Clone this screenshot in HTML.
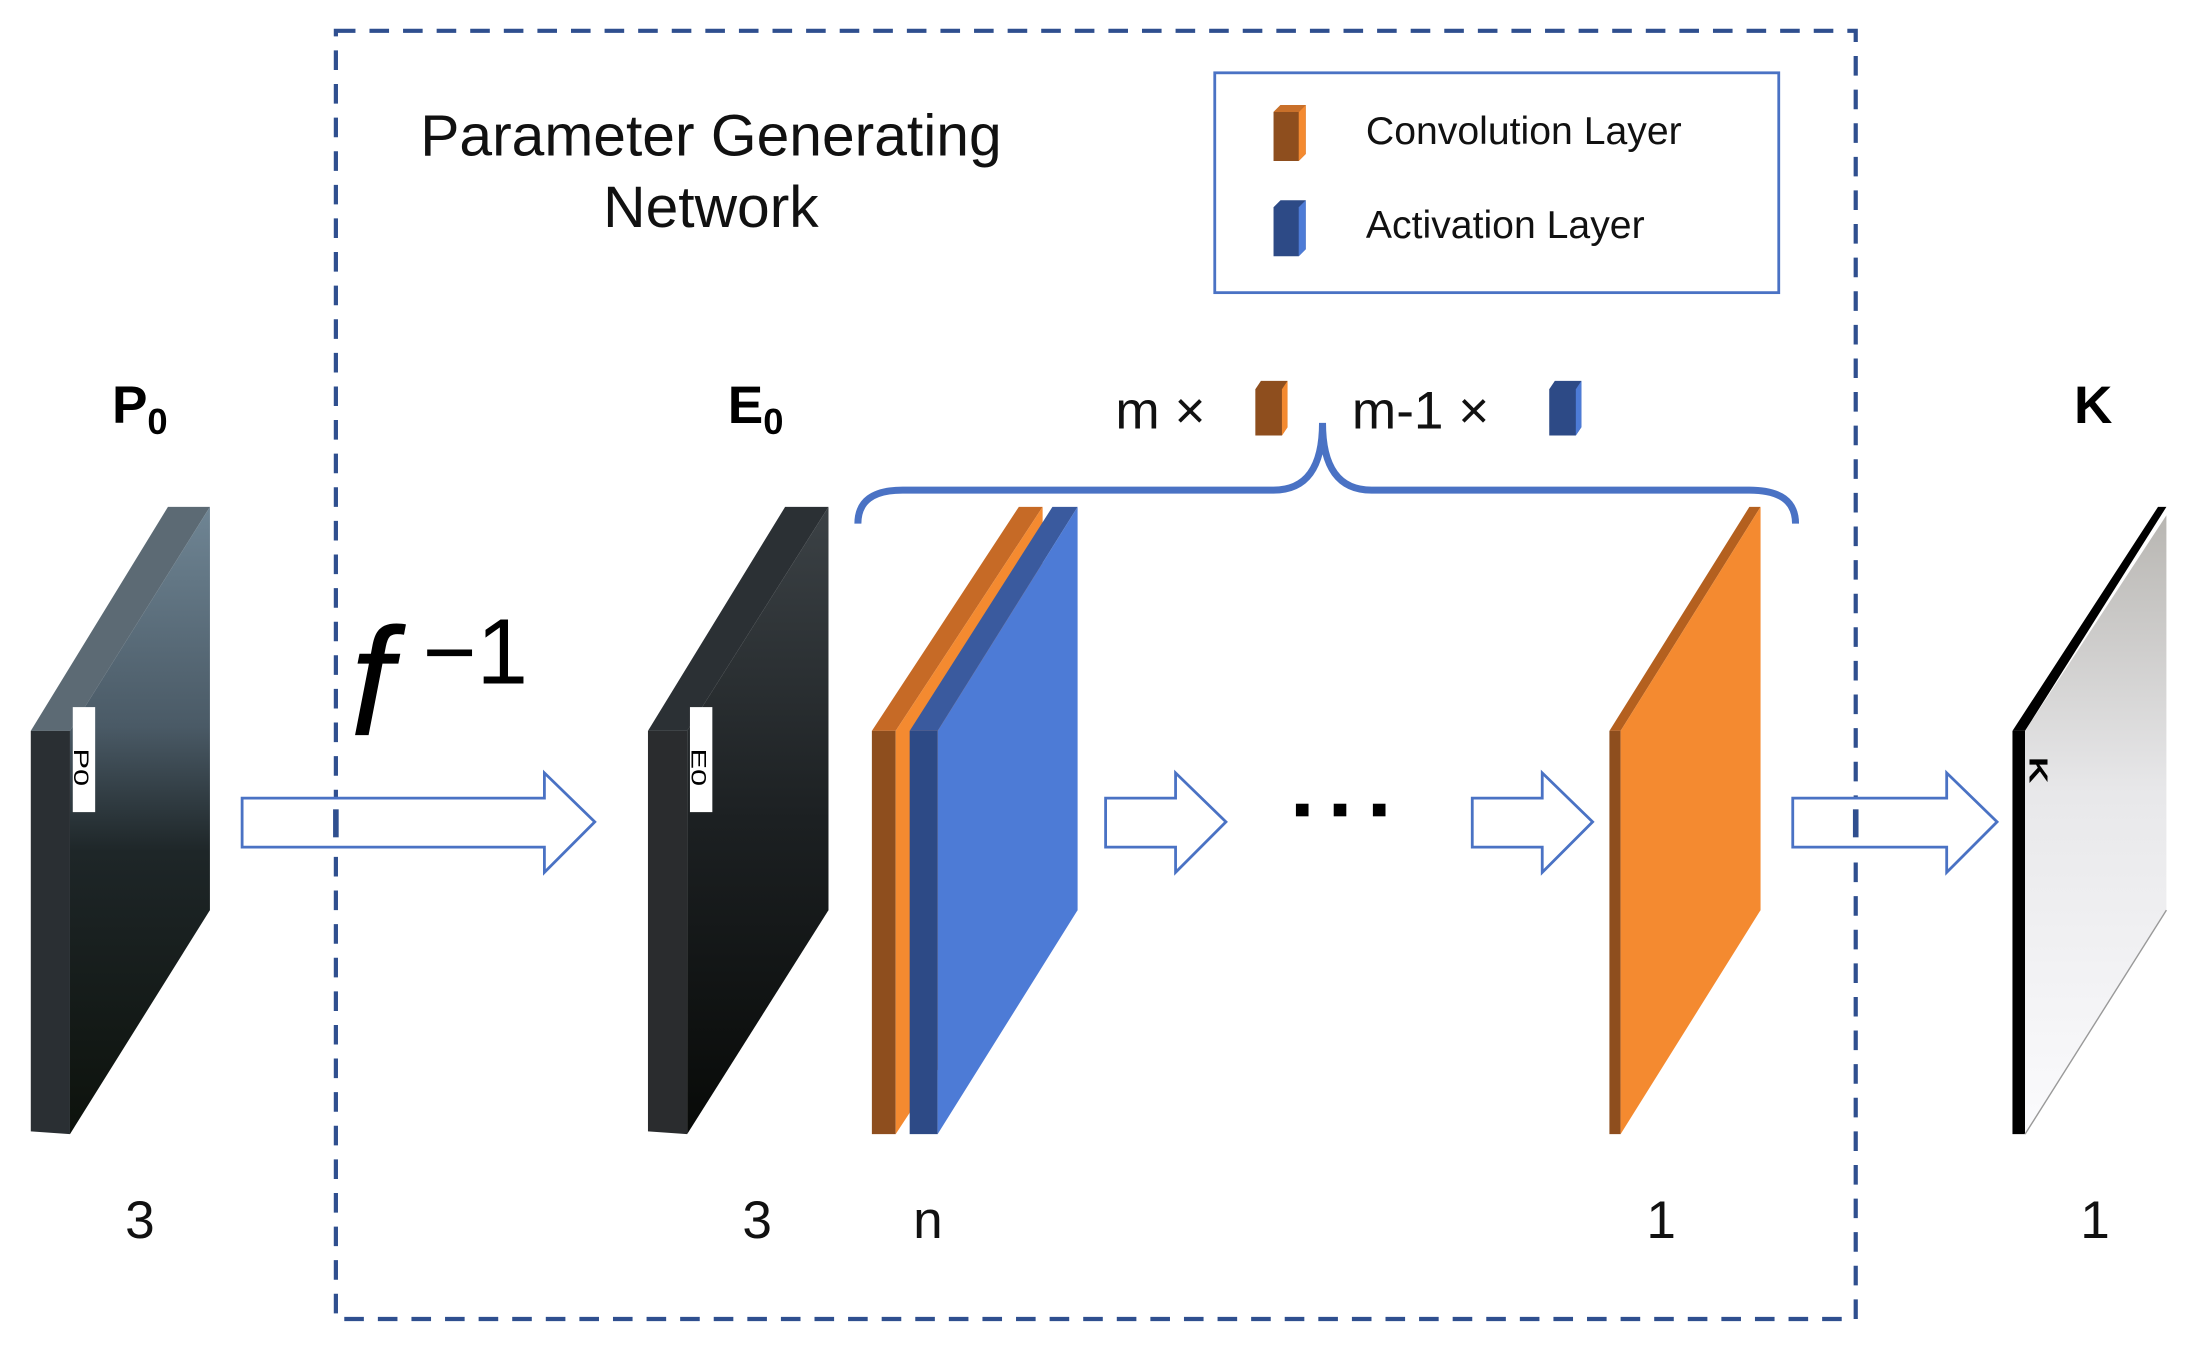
<!DOCTYPE html>
<html><head><meta charset="utf-8"><style>
html,body{margin:0;padding:0;background:#fff;}
svg{display:block;}
text{font-family:"Liberation Sans",sans-serif;}
</style></head><body>
<svg width="2193" height="1354" viewBox="0 0 1567 967" preserveAspectRatio="none" xmlns="http://www.w3.org/2000/svg">
<defs>
<linearGradient id="pimg" x1="0" y1="0" x2="0" y2="1">
<stop offset="0" stop-color="#6f8594"/><stop offset="0.35" stop-color="#4a5a66"/><stop offset="0.55" stop-color="#1e2628"/><stop offset="1" stop-color="#0d120c"/></linearGradient>
<linearGradient id="eimg" x1="0" y1="0" x2="0" y2="1">
<stop offset="0" stop-color="#3c4246"/><stop offset="0.5" stop-color="#1c2022"/><stop offset="1" stop-color="#080a08"/></linearGradient>
<linearGradient id="kimg" x1="0" y1="0" x2="0" y2="1">
<stop offset="0" stop-color="#b8b6b2"/><stop offset="0.45" stop-color="#e8e8ea"/><stop offset="1" stop-color="#fbfbfd"/></linearGradient>
</defs>
<rect x="240" y="22" width="1086" height="920" fill="none" stroke="#2f4f8f" stroke-width="3" stroke-dasharray="14,10"/>
<text x="508" y="111" font-size="42" text-anchor="middle" fill="#111">Parameter Generating</text>
<text x="508" y="162" font-size="42" text-anchor="middle" fill="#111">Network</text>
<rect x="868" y="52" width="403" height="157" fill="#fff" stroke="#4a72c4" stroke-width="2"/>
<polygon points="910,80 915,75 933,75 933,110 928,115 910,115" fill="#8e4e1e"/>
<polygon points="928,80 933,75 933,110 928,115" fill="#f48a30"/>
<polygon points="910,80 915,75 933,75 928,80" fill="#c9702a"/>
<text x="976" y="103" font-size="28" fill="#111">Convolution Layer</text>
<polygon points="910,148 915,143 933,143 933,178 928,183 910,183" fill="#2d4a86"/>
<polygon points="928,148 933,143 933,178 928,183" fill="#4d7bd6"/>
<text x="976" y="170" font-size="28" fill="#111">Activation Layer</text>
<text x="80" y="302" font-size="38" font-weight="bold" fill="#000">P<tspan font-size="26" dy="8">0</tspan></text>
<text x="520" y="302" font-size="38" font-weight="bold" fill="#000">E<tspan font-size="26" dy="8">0</tspan></text>
<text x="1482" y="302" font-size="38" font-weight="bold" fill="#000">K</text>
<polygon points="22,522 120,362 150,362 50,522" fill="#5c6a74"/>
<polygon points="22,522 50,522 50,810 22,808" fill="#2a2f33"/>
<polygon points="50,522 150,362 150,650 50,810" fill="url(#pimg)"/>
<rect x="52" y="505" width="16" height="75" fill="#fff"/>
<text x="0" y="0" font-size="22" fill="#000" transform="translate(53 548) rotate(90) scale(1,0.7)" text-anchor="middle">P0</text>
<polygon points="463,522 561,362 592,362 491,522" fill="#2b3034"/>
<polygon points="463,522 491,522 491,810 463,808" fill="#2a2c2e"/>
<polygon points="491,522 592,362 592,650 491,810" fill="url(#eimg)"/>
<rect x="493" y="505" width="16" height="75" fill="#fff"/>
<text x="0" y="0" font-size="22" fill="#000" transform="translate(494 548) rotate(90) scale(1,0.7)" text-anchor="middle">E0</text>
<polygon points="623,522 728,362 745,362 640,522" fill="#c66a26"/>
<polygon points="623,522 640,522 640,810 623,810" fill="#8e4e1e"/>
<polygon points="640,522 745,362 745,650 640,810" fill="#f48a30"/>
<polygon points="650,522 752,362 770,362 670,522" fill="#3a5a9e"/>
<polygon points="650,522 670,522 670,810 650,810" fill="#2d4a86"/>
<polygon points="670,522 770,362 770,650 670,810" fill="#4d7bd6"/>
<polygon points="1150,522 1250,362 1258,362 1158,522" fill="#b4601f"/>
<polygon points="1150,522 1158,522 1158,810 1150,810" fill="#8e4e1e"/>
<polygon points="1158,522 1258,362 1258,650 1158,810" fill="#f48a30"/>
<polygon points="1438,522 1542,362 1548,362 1447,522" fill="#000"/>
<polygon points="1438,522 1447,522 1447,810 1438,810" fill="#000"/>
<polygon points="1447,522 1548,368 1548,650 1447,810" fill="url(#kimg)"/>
<line x1="1447" y1="810" x2="1548" y2="650" stroke="#999" stroke-width="1"/>
<text x="0" y="0" font-size="26" font-weight="bold" fill="#000" transform="translate(1450 550) rotate(90) scale(1,0.7)" text-anchor="middle">K</text>
<g fill="#fff" stroke="#4a72c4" stroke-width="2">
<polygon points="173,570 389,570 389,552 425,587 389,623 389,605 173,605"/>
<polygon points="790,570 840,570 840,552 876,587 840,623 840,605 790,605"/>
<polygon points="1052,570 1102,570 1102,552 1138,587 1102,623 1102,605 1052,605"/>
<polygon points="1281,570 1391,570 1391,552 1427,587 1391,623 1391,605 1281,605"/>
</g>
<rect x="238" y="578" width="4" height="20" fill="#2f4f8f"/>
<rect x="1324" y="578" width="4" height="20" fill="#2f4f8f"/>
<rect x="926" y="574" width="9" height="9" fill="#000"/>
<rect x="953" y="574" width="9" height="9" fill="#000"/>
<rect x="981" y="574" width="9" height="9" fill="#000"/>
<text x="250" y="525" font-size="110" font-style="italic" font-family="Liberation Serif,serif" fill="#000">f</text>
<text x="302" y="488" font-size="66" font-family="Liberation Serif,serif" fill="#000">−1</text>
<path d="M613,374 Q613,350 645,350 L910,350 Q945,350 945,302 Q945,350 980,350 L1250,350 Q1283,350 1283,374" fill="none" stroke="#4a72c4" stroke-width="5"/>
<text x="797" y="306" font-size="38" fill="#111">m ×</text>
<polygon points="897,278 901,272 920,272 920,305 916,311 897,311" fill="#8e4e1e"/>
<polygon points="916,278 920,272 920,305 916,311" fill="#f48a30"/>
<text x="966" y="306" font-size="38" fill="#111">m-1 ×</text>
<polygon points="1107,278 1111,272 1130,272 1130,305 1126,311 1107,311" fill="#2d4a86"/>
<polygon points="1126,278 1130,272 1130,305 1126,311" fill="#4d7bd6"/>
<g font-size="38" fill="#111" text-anchor="middle">
<text x="100" y="884">3</text>
<text x="541" y="884">3</text>
<text x="663" y="884">n</text>
<text x="1187" y="884">1</text>
<text x="1497" y="884">1</text>
</g>
</svg>
</body></html>
